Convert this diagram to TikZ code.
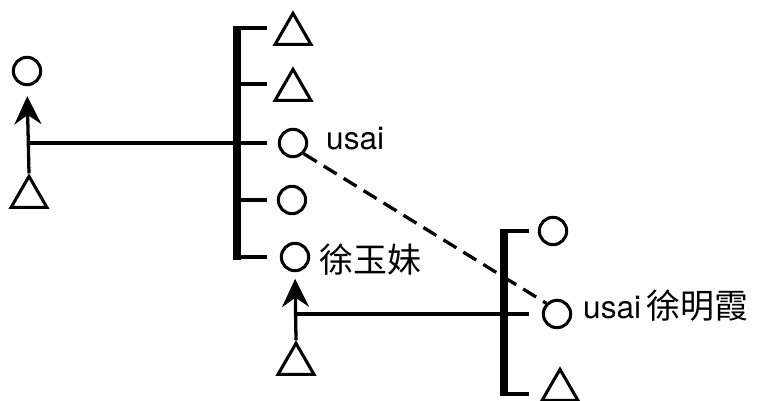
\documentclass[tikz,border=0pt]{standalone}
\usepackage{fontspec}
\setmainfont{TeX Gyre Heros}
\newfontfamily\cjk{Noto Sans CJK SC}
\usetikzlibrary{arrows.meta,shapes.geometric}
\tikzset{
  fem/.style      = {circle, draw, line width=2.6pt, minimum size=8.2mm, inner sep=0pt},
  male/.style     = {regular polygon, regular polygon sides=3, draw, line width=2.6pt,
                     minimum size=12.4mm, inner sep=0pt},
  tie/.style      = {line width=2.8pt},
  sib/.style      = {line width=6pt},
  desc/.style     = {tie, -{Stealth[length=24pt,width=23pt,inset=8pt]}, shorten >=3mm},
  link/.style     = {tie, dash pattern=on 13pt off 7pt},
  kinlabel/.style = {anchor=base west, inner sep=0pt, font=\fontsize{27}{32}\selectfont},
  cjklabel/.style = {font=\fontsize{29}{34}\selectfont\cjk},
}

\begin{document}
\begin{tikzpicture}[x=0.03cm,y=-0.03cm]
  \useasboundingbox (0,0) rectangle (758,401);
  % parents on the left
  \node[fem]  (c0) at (27,71) {};
  \node[male] (t0) at (29,197) {};
  % first sibling set
  \coordinate (bar1) at (237,143);
  \node[male] (s1) at (293,34) {};
  \node[male] (s2) at (293,90) {};
  \node[fem]  (s3) at (293,143) {};
  \node[fem]  (s4) at (292,200) {};
  \node[fem]  (s5) at (295,257) {};
  \draw[sib] (bar1 |- s1.side 1) ++(0,-2) -- (237,260);
  \foreach \s in {s1.side 1,s2.side 1,s3,s4,s5}
    \draw[tie] (bar1 |- \s) -- ++(30,0);
  \draw[tie] (t0.corner 1 |- s3) -- (bar1);
  \draw[desc] (t0.corner 1) -- (c0.south);
  % second sibling set
  \coordinate (bar2) at (504,314);
  \node[male] (t6) at (296,364) {};
  \node[fem]  (c7) at (553,231) {};
  \node[fem]  (c6) at (557,314) {};
  \node[male] (t8) at (560,390) {};
  \draw[sib] (bar2 |- c7) ++(0,-2) -- (504,396);
  \foreach \s in {c7,c6}
    \draw[tie] (bar2 |- \s) -- ++(25,0);
  \draw[tie] (504,394) -- ++(25,0);
  \draw[tie] (t6.corner 1 |- c6) -- (bar2);
  \draw[desc, shorten >=2mm] (t6.corner 1) -- (s5.south);
  % same person
  \draw[link] (s3.south east) -- (c6.north west);
  % names
  \node[kinlabel] (n3) at (326,150) {usai};
  \node[kinlabel, cjklabel] (n5) at (319,272) {徐玉妹};
  \node[kinlabel] (n6) at (583,318) {usai\,{\cjk\fontsize{29}{34}\selectfont 徐明霞}};
\end{tikzpicture}
\end{document}
